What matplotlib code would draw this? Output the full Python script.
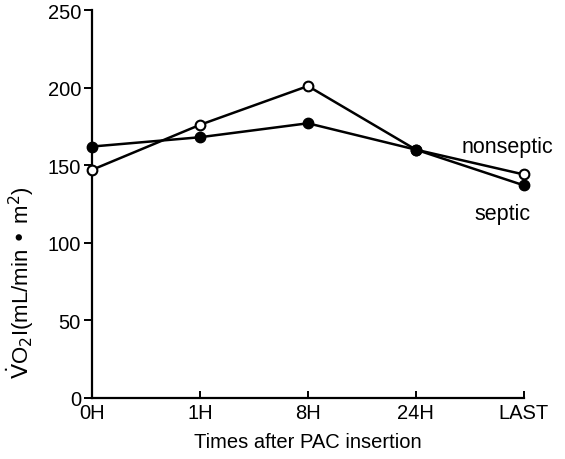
import matplotlib
matplotlib.use("Agg")
import matplotlib.pyplot as plt

times = ["0H", "1H", "8H", "24H", "LAST"]
septic = [162, 168, 177, 160, 137]
nonseptic = [147, 176, 201, 160, 144]
yticks = [0, 50, 100, 150, 200, 250]

plt.rcParams['font.family'] = ['Liberation Sans', 'DejaVu Sans']

fig = plt.figure(figsize=(5.65, 4.6), dpi=100)
ax = fig.add_axes([0.163, 0.133, 0.764, 0.843])

x = list(range(len(times)))
ax.plot(x, nonseptic, color='black', lw=1.8, marker='o', ms=7,
        mfc='white', mec='black', mew=1.5, clip_on=False, zorder=3)
ax.plot(x, septic, color='black', lw=1.8, marker='o', ms=7.5,
        mfc='black', mec='black', clip_on=False, zorder=4)

ax.text(3.85, 162, "nonseptic", fontsize=15.5, ha='center', va='center')
ax.text(3.8, 119, "septic", fontsize=15.5, ha='center', va='center')

ax.set_xlim(0, 4)
ax.set_ylim(0, 250)
ax.set_xticks(x)
ax.set_xticklabels(times, fontsize=14.5)
ax.set_yticks(yticks)
ax.set_yticklabels([str(t) for t in yticks], fontsize=14.5)

ax.spines['top'].set_visible(False)
ax.spines['right'].set_visible(False)
ax.spines['left'].set_linewidth(1.6)
ax.spines['bottom'].set_linewidth(1.6)
ax.tick_params(axis='y', direction='out', length=6, width=1.4, pad=2)
ax.tick_params(axis='x', direction='in', length=5, width=1.4, pad=4)

ax.set_xlabel("Times after PAC insertion", fontsize=14.5, labelpad=7)
fig.text(0.036, 1 - 283 / 460, r"$\dot{\mathrm{V}}$O$_2$I(mL/min • m$^2$)",
         rotation=90, fontsize=16, ha='center', va='center')

fig.savefig("out.png", dpi=100)
